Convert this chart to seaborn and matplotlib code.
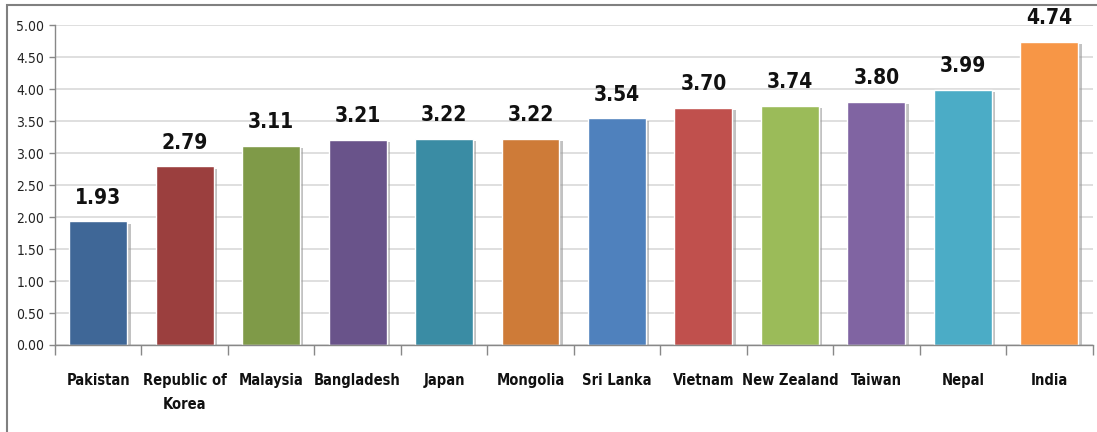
import matplotlib
matplotlib.use("Agg")
import matplotlib.pyplot as plt
import matplotlib.patheffects as pe
from matplotlib.patches import Rectangle
from matplotlib.ticker import MultipleLocator, FixedLocator
import seaborn as sns
import pandas as pd

countries = ["Pakistan", "Republic of\nKorea", "Malaysia", "Bangladesh", "Japan", "Mongolia",
             "Sri Lanka", "Vietnam", "New Zealand", "Taiwan", "Nepal", "India"]
scores = [1.93, 2.79, 3.11, 3.21, 3.22, 3.22, 3.54, 3.70, 3.74, 3.80, 3.99, 4.74]
colors = ["#3F6797", "#9B3F3E", "#7F9A48", "#69538A", "#3A8CA4", "#CE7B38",
          "#4F81BD", "#C0504D", "#9BBB59", "#8064A2", "#4BACC6", "#F79646"]

sns.set_style("white")
plt.rcParams["font.family"] = ["DejaVu Sans"]
plt.rcParams["font.stretch"] = "condensed"

df = pd.DataFrame({"country": countries, "score": scores})

fig = plt.figure(figsize=(10.97, 4.32), dpi=100)
ax = fig.add_axes([0.050, 0.2014, 0.946, 0.7406])

sns.barplot(data=df, x="country", y="score", hue="country", palette=colors,
            width=0.67, legend=False, ax=ax, saturation=1)

for bar in ax.patches:
    bar.set_path_effects([pe.SimplePatchShadow(offset=(2.5, -1.5), shadow_rgbFace="#9a9a9a", alpha=0.6),
                          pe.Normal()])

for i, v in enumerate(scores):
    ax.annotate(f"{v:.2f}", (i, v), xytext=(0, 10), textcoords="offset points",
                ha="center", va="bottom", fontsize=15, fontweight="bold",
                fontstretch="condensed", color="#111111")

ax.set_ylim(0, 5)
ax.set_xlim(-0.5, len(countries) - 0.5)
ax.yaxis.set_major_locator(MultipleLocator(0.5))
ax.set_yticklabels([f"{t:.2f}" for t in ax.get_yticks()], fontsize=10, color="#222222")
ax.set_axisbelow(True)
ax.yaxis.grid(True, color="#d9d9d9", linewidth=1.2)
ax.xaxis.grid(False)

ax.tick_params(axis="x", which="major", length=0, pad=20, labelsize=10.5)
for lbl in ax.get_xticklabels():
    lbl.set_fontweight("bold")
    lbl.set_fontstretch("condensed")
    lbl.set_color("#111111")
    lbl.set_linespacing(1.75)
ax.xaxis.set_minor_locator(FixedLocator([i - 0.5 for i in range(len(countries) + 1)]))
ax.tick_params(axis="x", which="minor", length=7, width=1, color="#888888", bottom=True)
ax.tick_params(axis="y", which="major", length=4, width=1, color="#888888", left=True)

ax.set_xlabel("")
ax.set_ylabel("")
for side in ["top", "right"]:
    ax.spines[side].set_visible(False)
for side in ["left", "bottom"]:
    ax.spines[side].set_color("#888888")
    ax.spines[side].set_linewidth(1)

fig.patches.append(Rectangle((7 / 1097, -0.05), 1.2, 1 - 5 / 432 + 0.05,
                             transform=fig.transFigure, fill=False,
                             edgecolor="#808080", linewidth=1.5))

fig.savefig("out.png", dpi=100)
